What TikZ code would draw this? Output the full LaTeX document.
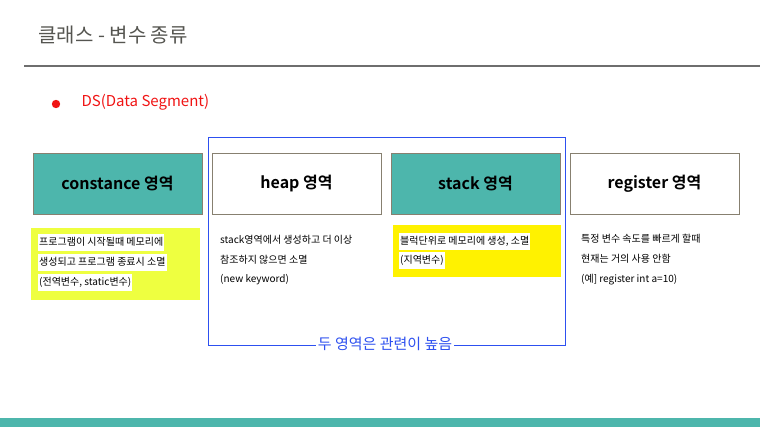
\documentclass[tikz,border=0pt]{standalone}
\usepackage{fontspec}
\setmainfont{Noto Sans CJK KR}[BoldFont={Noto Sans CJK KR Bold}]
\usepackage{tikz}
\usetikzlibrary{positioning}

\definecolor{areateal}{RGB}{77,182,172}
\definecolor{boxgray}{RGB}{135,128,112}
\definecolor{titlegray}{RGB}{85,85,80}
\definecolor{rulegray}{RGB}{110,110,110}
\definecolor{limeyellow}{RGB}{238,255,64}
\definecolor{relblue}{RGB}{45,80,240}
\definecolor{dsred}{RGB}{240,20,20}

\begin{document}
\begin{tikzpicture}[x=1pt,y=-1pt,
  areabox/.style={draw=boxgray,line width=0.9pt,inner sep=0pt,outer sep=0pt,
    minimum width=169pt,minimum height=61pt,
    font=\fontsize{16}{18}\selectfont\bfseries},
  note/.style={anchor=west,inner xsep=1pt,inner ysep=3pt,
    text height=8.5pt,text depth=2.5pt,font=\fontsize{10}{12}\selectfont},
  hl/.style={note,fill=white},
  node distance=10pt]

\useasboundingbox (0,0) rectangle (760,427);

%% Title and rule
\node[anchor=west,text=titlegray,font=\fontsize{20}{22}\selectfont] (title) at (35,35) {클래스 - 변수 종류};
\draw[rulegray,line width=1.8pt] (24,66) -- (760,66);

%% Bullet
\fill[dsred] (56,104) circle (4.2);
\node[anchor=west,text=dsred,font=\fontsize{15}{17}\selectfont] (ds) at (78,102) {DS(Data Segment)};

%% Region joining heap and stack
\draw[relblue,line width=0.9pt] (208,137) rectangle (565,345);

%% Area boxes
\node[areabox,fill=areateal,anchor=north west] (const) at (33,153) {constance 영역};
\node[areabox,fill=white,right=of const] (heap) {heap 영역};
\node[areabox,fill=areateal,right=of heap] (stack) {stack 영역};
\node[areabox,fill=white,right=of stack] (reg) {register 영역};

%% Descriptions
\fill[limeyellow] (31,228) rectangle (200,300);
\node[hl] (c1) at (38,243) {프로그램이 시작될때 메모리에};
\node[hl] (c2) at (38,263) {생성되고 프로그램 종료시 소멸};
\node[hl] (c3) at (38,283) {(전역변수, static변수)};

\node[note] (h1) at (219,241) {stack영역에서 생성하고 더 이상};
\node[note] (h2) at (219,261) {참조하지 않으면 소멸};
\node[note] (h3) at (219,280) {(new keyword)};

\fill[yellow] (393,225) rectangle (561,277);
\node[hl] (s1) at (399,242) {블럭단위로 메모리에 생성, 소멸};
\node[hl] (s2) at (399,261) {(지역변수)};

\node[note] (r1) at (580,240) {특정 변수 속도를 빠르게 할때};
\node[note] (r2) at (580,260) {현재는 거의 사용 안함};
\node[note] (r3) at (580,280) {(예] register int a=10)};

%% Relation label on the region edge
\node[fill=white,text=relblue,inner xsep=2pt,inner ysep=1pt,font=\fontsize{15}{17}\selectfont] (rel) at (385,344) {두 영역은 관련이 높음};

%% Bottom band
\fill[areateal] (0,418) rectangle (760,427);

\end{tikzpicture}
\end{document}
